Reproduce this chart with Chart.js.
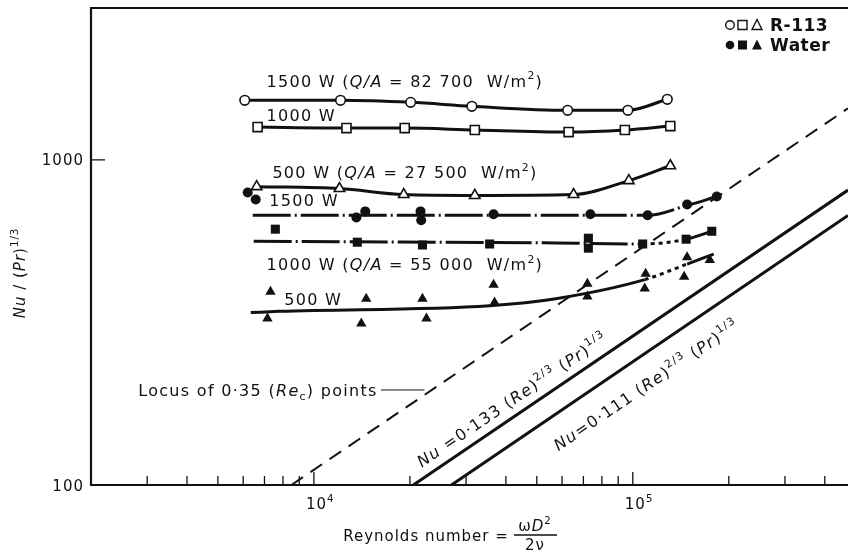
<!DOCTYPE html>
<html><head><meta charset="utf-8">
<script src="https://cdn.jsdelivr.net/npm/chart.js@4.4.1/dist/chart.umd.min.js"></script>
<style>html,body{margin:0;padding:0;background:#fff}canvas{display:block}</style>
</head><body>
<canvas id="c" width="856" height="557"></canvas>
<script>
// Reynolds number (x) and Nu/(Pr)^1/3 (y) for each run
const r113_1500_re = [6070, 12120, 20110, 31290, 62480, 96500, 128300];
const r113_1500_nu = [1524, 1524, 1502, 1461, 1420, 1420, 1535];
const r113_1000_re = [6660, 12650, 19270, 31960, 62920, 94440, 131100];
const r113_1000_nu = [1261, 1252, 1252, 1235, 1217, 1235, 1270];
const r113_500_re  = [6615, 12030, 19130, 31960, 65200, 97200, 131100];
const r113_500_nu  = [827, 816, 782, 777, 782, 863, 959];

const water_1500_re = [6200, 6570, 13590, 14490, 21600, 21700, 36600, 73600, 111300, 148000, 183400];
const water_1500_nu = [793, 755, 665, 694, 694, 652, 680, 680, 675, 729, 771];
const water_1500_fit_re = [6430, 73600, 111300, 148000, 183400];
const water_1500_fit_nu = [675, 675, 675, 724, 771];

const water_1000_re = [7570, 13680, 21900, 35570, 72560, 72560, 107400, 146980, 176900];
const water_1000_nu = [612, 558, 547, 551, 574, 535, 551, 570, 603];
const water_1000_fit_re = [6475, 57350, 107400, 146980, 176900];
const water_1000_fit_nu = [562, 555, 551, 570, 603];

const water_500_re = [7310, 7150, 14590, 14080, 21900, 22540, 36600, 36860, 72040, 72040, 109700, 109000, 148000, 144900, 174400];
const water_500_nu = [393, 325, 374, 314, 374, 325, 413, 364, 416, 380, 446, 402, 502, 437, 492];
const water_500_fit_re = [6340, 7790, 35570, 57350, 109000, 148000, 179400];
const water_500_fit_nu = [339, 342, 356, 374, 428, 478, 513];

// correlation lines and the locus of transition points (end points)
const corr133_re = [20500, 473000];
const corr133_nu = [100, 807];
const corr111_re = [27000, 473000];
const corr111_nu = [100, 674];
const locus_re = [8500, 473000];
const locus_nu = [100, 1440];

// axis ticks
const xMajorTicks = [1e4, 1e5];
const xMinorTicks = [3000, 4000, 5000, 6000, 7000, 8000, 9000,
  20000, 30000, 40000, 50000, 60000, 70000, 80000, 90000, 200000, 300000, 400000];
const yTickLabels = [100, 1000];

const FONT = '"DejaVu Sans", sans-serif';
const INK = '#111';

const zip = (xs, ys) => xs.map((x, i) => ({ x, y: ys[i] }));

const lineDs = (re, nu, extra) => Object.assign({
  data: zip(re, nu), showLine: true, borderColor: INK, borderWidth: 3,
  pointRadius: 0, cubicInterpolationMode: 'monotone', order: 2
}, extra);

const markDs = (re, nu, style, filled, r) => ({
  data: zip(re, nu), showLine: false, pointStyle: style, pointRadius: r,
  pointBackgroundColor: filled ? INK : '#fff', pointBorderColor: INK,
  pointBorderWidth: filled ? 0 : 1.6, order: 0
});

const lastDashed = n => ({ borderDash: c => c.p1DataIndex === n - 1 ? [4, 4] : undefined });

const datasets = [
  // R-113 runs: curve through every point
  lineDs(r113_1500_re, r113_1500_nu, { pointStyle: 'circle', pointRadius: 4.8, pointBackgroundColor: '#fff', pointBorderColor: INK, pointBorderWidth: 1.6, order: 1 }),
  lineDs(r113_1000_re, r113_1000_nu, { pointStyle: 'rect', pointRadius: 6.4, pointBackgroundColor: '#fff', pointBorderColor: INK, pointBorderWidth: 1.6, order: 1 }),
  lineDs(r113_500_re, r113_500_nu, { pointStyle: 'triangle', pointRadius: 6, pointBackgroundColor: '#fff', pointBorderColor: INK, pointBorderWidth: 1.6, order: 1 }),
  // water runs: fitted curves and scattered points
  lineDs(water_1500_fit_re, water_1500_fit_nu, { borderDash: [38, 4, 2, 4] }),
  lineDs(water_1000_fit_re, water_1000_fit_nu, { borderDash: [38, 4, 2, 4], segment: lastDashed(water_1000_fit_re.length - 1) }),
  lineDs(water_500_fit_re, water_500_fit_nu, { segment: lastDashed(water_500_fit_re.length - 1) }),
  markDs(water_1500_re, water_1500_nu, 'circle', true, 5),
  markDs(water_1000_re, water_1000_nu, 'rect', true, 6.4),
  markDs(water_500_re, water_500_nu, 'triangle', true, 6),
  // correlations and locus
  lineDs(corr133_re, corr133_nu, { cubicInterpolationMode: 'default', tension: 0 }),
  lineDs(corr111_re, corr111_nu, { cubicInterpolationMode: 'default', tension: 0 }),
  lineDs(locus_re, locus_nu, { borderWidth: 2, borderDash: [14, 9], cubicInterpolationMode: 'default', tension: 0 })
];

// text made of runs: [text, flags] with i = italic, b = bold, ^ = superscript, _ = subscript
function runFont(flags, size) {
  const small = flags.includes('^') || flags.includes('_');
  const fs = small ? size * 0.68 : size;
  return `${flags.includes('i') ? 'italic ' : ''}${flags.includes('b') ? 'bold ' : ''}${fs}px ${FONT}`;
}
function runsWidth(ctx, runs, size) {
  let w = 0;
  for (const [t, f = ''] of runs) { ctx.font = runFont(f, size); w += ctx.measureText(t).width; }
  return w;
}
function drawRuns(ctx, x, y, runs, size, align) {
  ctx.textBaseline = 'alphabetic';
  ctx.textAlign = 'left';
  let cx = x;
  const w = runsWidth(ctx, runs, size);
  if (align === 'center') cx -= w / 2;
  if (align === 'right') cx -= w;
  for (const [t, f = ''] of runs) {
    ctx.font = runFont(f, size);
    const dy = f.includes('^') ? -size * 0.45 : f.includes('_') ? size * 0.25 : 0;
    ctx.fillText(t, cx, y + dy);
    cx += ctx.measureText(t).width;
  }
  return w;
}

const decor = {
  id: 'decor',
  afterDraw(chart) {
    const ctx = chart.ctx;
    const a = chart.chartArea;
    const X = v => chart.scales.x.getPixelForValue(v);
    const Y = v => chart.scales.y.getPixelForValue(v);
    ctx.save();
    ctx.fillStyle = INK;
    ctx.strokeStyle = INK;
    ctx.letterSpacing = '1px';

    // frame
    ctx.lineWidth = 2.2;
    ctx.beginPath();
    ctx.moveTo(a.right, a.top); ctx.lineTo(a.left, a.top);
    ctx.lineTo(a.left, a.bottom); ctx.lineTo(a.right, a.bottom);
    ctx.stroke();

    // x ticks, drawn inward
    ctx.lineWidth = 1.3;
    ctx.beginPath();
    xMinorTicks.forEach(v => { ctx.moveTo(X(v), a.bottom); ctx.lineTo(X(v), a.bottom - 9); });
    xMajorTicks.forEach(v => { ctx.moveTo(X(v), a.bottom); ctx.lineTo(X(v), a.bottom - 13); });
    ctx.moveTo(a.left, Y(1000)); ctx.lineTo(a.left + 14, Y(1000));
    ctx.stroke();

    // tick labels
    const S = 15;
    yTickLabels.forEach(v => drawRuns(ctx, a.left - 7, Y(v) + 5.5, [[String(v)]], S, 'right'));
    xMajorTicks.forEach(v => {
      const e = Math.round(Math.log10(v));
      drawRuns(ctx, X(v) - 8, a.bottom + 24, [['10'], [String(e), '^']], S, 'left');
    });

    // axis titles
    drawRuns(ctx, 426, 541, [['Reynolds number =']], S, 'center');
    drawRuns(ctx, 535, 531, [['ω'], ['D', 'i'], ['2', '^']], S, 'center');
    ctx.lineWidth = 1.3;
    ctx.beginPath(); ctx.moveTo(514, 535); ctx.lineTo(557, 535); ctx.stroke();
    drawRuns(ctx, 535, 550, [['2ν']], S, 'center');

    ctx.save();
    ctx.translate(25, 273);
    ctx.rotate(-Math.PI / 2);
    drawRuns(ctx, 0, 0, [['Nu', 'i'], [' / ('], ['Pr', 'i'], [')'], ['1/3', '^']], S, 'center');
    ctx.restore();

    // run labels
    const T = 16;
    ctx.letterSpacing = '1.3px';
    const L = (re, nu, runs) => drawRuns(ctx, X(re), Y(nu) + 6, runs, T, 'left');
    L(7100, 1753, [['1500 W ('], ['Q/A', 'i'], [' = 82 700  W/m'], ['2', '^'], [')']]);
    L(7100, 1371, [['1000 W']]);
    L(7410, 919, [['500 W ('], ['Q/A', 'i'], [' = 27 500  W/m'], ['2', '^'], [')']]);
    L(7250, 750, [['1500 W']]);
    L(7100, 479, [['1000 W ('], ['Q/A', 'i'], [' = 55 000  W/m'], ['2', '^'], [')']]);
    L(8075, 372, [['500 W']]);

    // locus label with leader
    L(2813, 196, [['Locus of 0·35 ('], ['Re', 'i'], ['c', '_'], [') points']]);
    ctx.lineWidth = 1;
    ctx.beginPath(); ctx.moveTo(X(16240), Y(196)); ctx.lineTo(X(22230), Y(196)); ctx.stroke();

    // correlation labels along the lines
    const ang = Math.atan2(Y(corr133_nu[1]) - Y(corr133_nu[0]), X(corr133_re[1]) - X(corr133_re[0]));
    const along = (re, nu, runs) => {
      ctx.save();
      ctx.translate(X(re), Y(nu));
      ctx.rotate(ang);
      drawRuns(ctx, 0, 0, runs, T, 'left');
      ctx.restore();
    };
    along(21800, 113, [['Nu', 'i'], [' =0·133 ('], ['Re', 'i'], [')'], ['2/3', '^'], [' ('], ['Pr', 'i'], [')'], ['1/3', '^']]);
    along(58500, 127, [['Nu', 'i'], ['=0·111 ('], ['Re', 'i'], [')'], ['2/3', '^'], [' ('], ['Pr', 'i'], [')'], ['1/3', '^']]);

    // key
    ctx.lineWidth = 1.4;
    const key = (y, filled) => {
      ctx.fillStyle = filled ? INK : '#fff';
      ctx.beginPath(); ctx.arc(730, y, 4.3, 0, Math.PI * 2); ctx.fill(); if (!filled) ctx.stroke();
      ctx.beginPath(); ctx.rect(738, y - 4.5, 9, 9); ctx.fill(); if (!filled) ctx.stroke();
      ctx.beginPath(); ctx.moveTo(757, y - 5.5); ctx.lineTo(762, y + 4.5); ctx.lineTo(752, y + 4.5); ctx.closePath();
      ctx.fill(); if (!filled) ctx.stroke();
      ctx.fillStyle = INK;
    };
    key(25, false);
    key(45, true);
    ctx.letterSpacing = '0.5px';
    drawRuns(ctx, 770, 31, [['R-113', 'b']], 17, 'left');
    drawRuns(ctx, 770, 51, [['Water', 'b']], 17, 'left');

    ctx.restore();
  }
};

new Chart(document.getElementById('c'), {
  type: 'scatter',
  data: { datasets },
  options: {
    responsive: false,
    animation: false,
    events: [],
    layout: { padding: { left: 91, top: 4, right: 0, bottom: 72 } },
    plugins: { legend: { display: false }, tooltip: { enabled: false } },
    scales: {
      x: { type: 'logarithmic', min: 2000, max: 473000, display: false },
      y: { type: 'logarithmic', min: 100, max: 2930, display: false }
    }
  },
  plugins: [decor]
});
</script>
</body></html>
